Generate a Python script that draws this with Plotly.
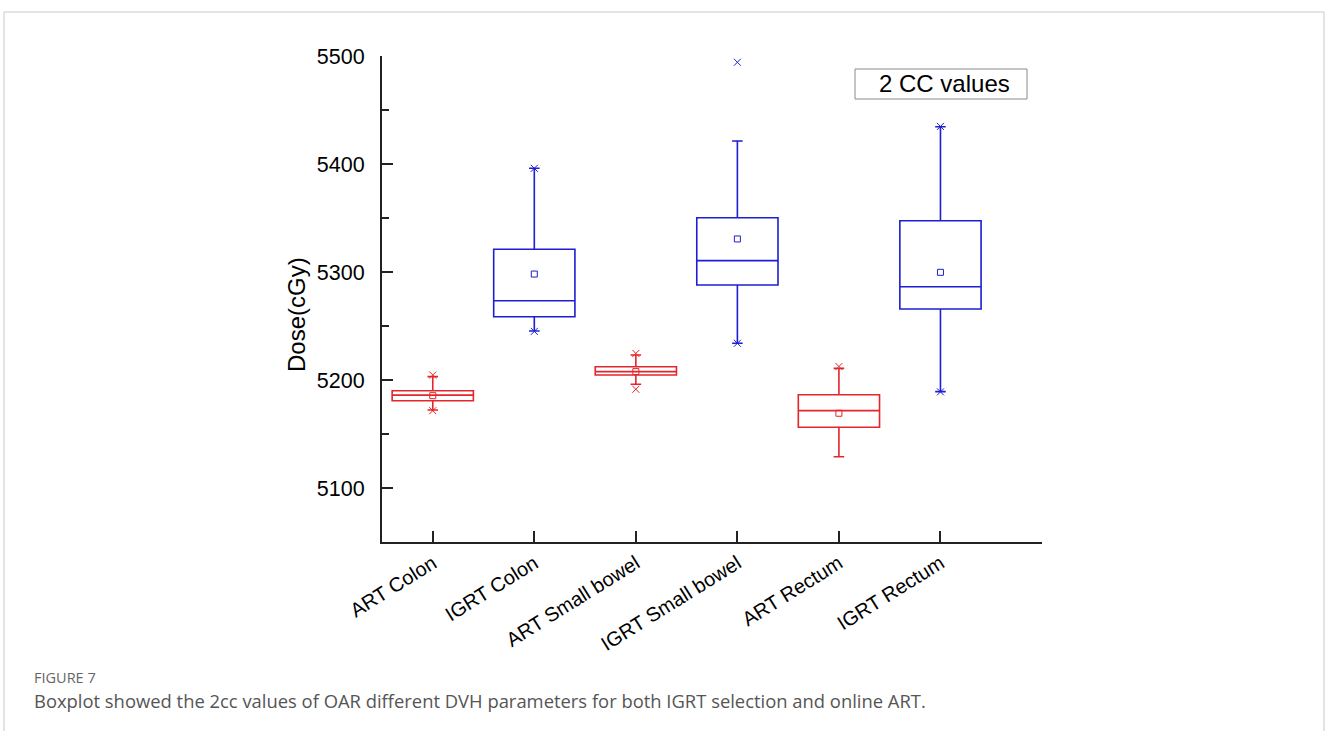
import plotly.graph_objects as go

# ---------------- data ----------------
categories = ["ART Colon", "IGRT Colon", "ART Small bowel",
              "IGRT Small bowel", "ART Rectum", "IGRT Rectum"]
groups = ["ART", "IGRT", "ART", "IGRT", "ART", "IGRT"]
q1 = [5180.8, 5258.6, 5204.6, 5288.0, 5156.2, 5265.7]
median = [5186.0, 5273.4, 5207.8, 5310.5, 5171.6, 5286.4]
q3 = [5190.1, 5321.0, 5212.3, 5350.3, 5186.4, 5347.5]
lower_whisker = [5172.2, 5245.4, 5196.0, 5234.0, 5129.0, 5189.2]
upper_whisker = [5203.1, 5396.0, 5223.1, 5421.3, 5210.8, 5434.5]
mean = [5185.5, 5298.1, 5207.8, 5330.6, 5169.2, 5299.7]
# extreme points shown with "x" markers (None = not shown)
max_marks = [5204.6, 5396.0, 5224.6, 5494.2, 5212.5, 5434.8]
min_marks = [5171.6, 5245.0, 5191.4, 5234.0, None, 5189.0]

y_ticks = [5100, 5200, 5300, 5400, 5500]
y_title = "Dose(cGy)"
legend_text = "2 CC values"
caption_label = "FIGURE 7"
caption_text = ("Boxplot showed the 2cc values of OAR different DVH parameters "
                "for both IGRT selection and online ART.")

colors = {"ART": "#e3262c", "IGRT": "#1e1ed2"}

# ---------------- layout geometry ----------------
W, H = 1328, 731
L, R, T, B = 382, 1042, 56, 542
def px(x):  # pixel -> paper x
    return (x - L) / (R - L)
def py(y):  # pixel -> paper y
    return (B - y) / (B - T)

FONT = "Liberation Sans, Arial, sans-serif"

fig = go.Figure()
positions = list(range(len(categories)))

for i, cat in enumerate(categories):
    g = groups[i]
    fig.add_trace(go.Box(
        x=[positions[i]], q1=[q1[i]], median=[median[i]], q3=[q3[i]],
        lowerfence=[lower_whisker[i]], upperfence=[upper_whisker[i]],
        boxpoints=False, width=0.8, whiskerwidth=0.13,
        line=dict(color=colors[g], width=1.6),
        fillcolor="rgba(0,0,0,0)", showlegend=False, name=cat,
        hoverinfo="skip"))

# mean markers
fig.add_trace(go.Scatter(
    x=positions, y=mean, mode="markers", showlegend=False,
    marker=dict(symbol="square-open", size=6,
                color=[colors[g] for g in groups], line=dict(width=1))))

# extreme markers
mx, my, mc = [], [], []
for i in positions:
    for v in (max_marks[i], min_marks[i]):
        if v is not None:
            mx.append(i); my.append(v); mc.append(colors[groups[i]])
fig.add_trace(go.Scatter(
    x=mx, y=my, mode="markers", showlegend=False,
    marker=dict(symbol="x-thin-open", size=7, color=mc,
                line=dict(width=1, color=mc))))

fig.update_layout(
    width=W, height=H,
    margin=dict(l=L, r=W - R, t=T, b=H - B),
    paper_bgcolor="white", plot_bgcolor="white",
    font=dict(family=FONT, color="black"),
    xaxis=dict(
        range=[-0.5, 6], tickmode="array",
        tickvals=list(range(len(categories) + 1)),
        ticktext=categories + [""],
        tickangle=-32, ticks="inside", ticklen=11, tickwidth=1.5,
        tickcolor="#222", showline=True, linecolor="#222", linewidth=2,
        showgrid=False, zeroline=False,
        tickfont=dict(size=20, family=FONT)),
    yaxis=dict(
        range=[5050, 5500], tickmode="array", tickvals=y_ticks,
        ticks="inside", ticklen=11, tickwidth=1.5, tickcolor="#222",
        minor=dict(ticks="inside", ticklen=7, tickwidth=1.5,
                   tickcolor="#222", dtick=50, tick0=5050),
        showline=True, linecolor="#222", linewidth=2,
        showgrid=False, zeroline=False, ticklabelstandoff=11,
        tickfont=dict(size=21.5, family=FONT)),
)

# y-axis title
fig.add_annotation(xref="paper", yref="paper", x=px(296), y=py(315),
                   text=y_title, textangle=-90, showarrow=False,
                   xanchor="center", yanchor="middle",
                   font=dict(size=24, color="black", family=FONT))

# legend-like text box
fig.add_shape(type="rect", xref="paper", yref="paper",
              x0=px(855), x1=px(1027), y0=py(99), y1=py(69),
              line=dict(color="#8a8a8a", width=1), fillcolor="white", layer="below")
fig.add_annotation(xref="paper", yref="paper", x=px(944), y=py(84),
                   text=legend_text, showarrow=False,
                   xanchor="center", yanchor="middle",
                   font=dict(size=24, color="black", family=FONT))

# outer figure frame
fig.add_shape(type="path", xref="paper", yref="paper",
              path=f"M {px(4)} {py(740)} L {px(4)} {py(12)} L {px(1324)} {py(12)} L {px(1324)} {py(740)}",
              line=dict(color="#c8c8c8", width=1))

# caption
fig.add_annotation(xref="paper", yref="paper", x=px(32), y=py(677),
                   text=caption_label, showarrow=False,
                   xanchor="left", yanchor="middle",
                   font=dict(size=14.5, color="#666666", family="Open Sans, sans-serif"))
fig.add_annotation(xref="paper", yref="paper", x=px(32), y=py(700),
                   text=caption_text, showarrow=False,
                   xanchor="left", yanchor="middle",
                   font=dict(size=18.4, color="#555555", family="Open Sans, sans-serif"))

fig.write_html("out.html", config={"displayModeBar": False},
               post_script="document.body.style.margin='0';document.body.style.overflow='hidden';")
